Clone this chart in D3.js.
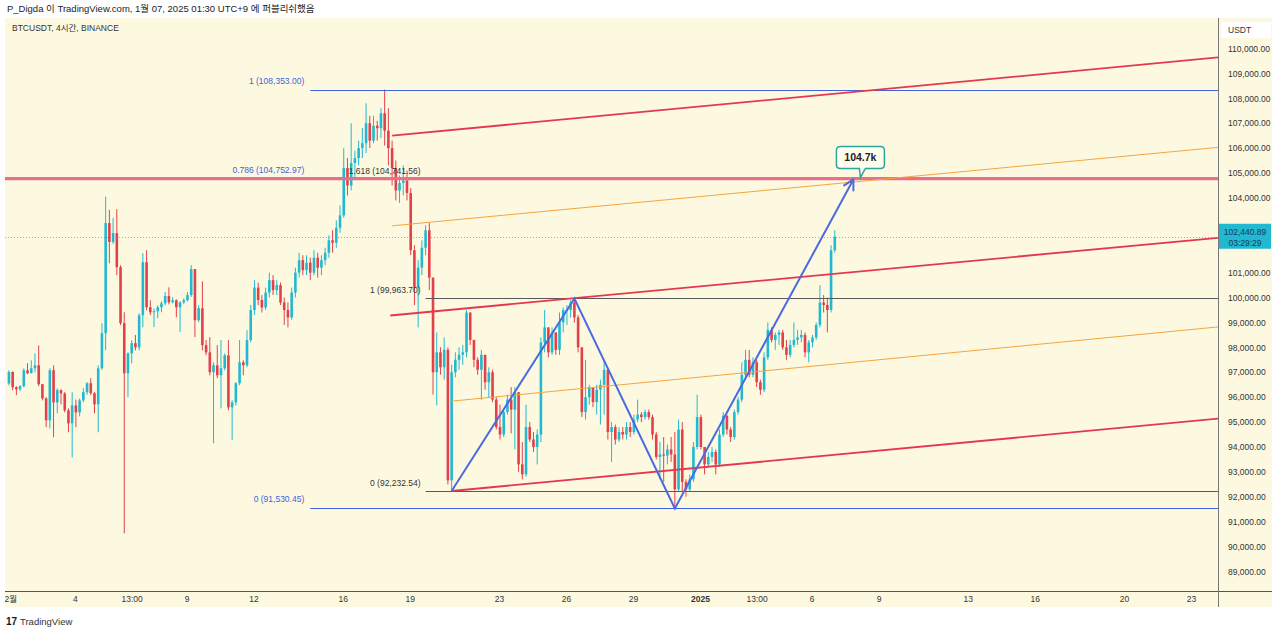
<!DOCTYPE html>
<html lang="ko">
<head>
<meta charset="utf-8">
<title>BTCUSDT 4시간</title>
<script src="https://cdn.jsdelivr.net/npm/d3@7/dist/d3.min.js"></script>
<style>
  body { margin: 0; background: #ffffff; }
  svg { display: block; font-family: "Liberation Sans", "Noto Sans CJK KR", sans-serif; }
</style>
</head>
<body>
<svg id="chart" width="1280" height="634"></svg>
<script>
// 4h bars, open of each bar = previous close
const barStart = "2024-12-01T01:00:00Z";
const barHours = 4;
const firstOpen = 96550;
const closes = [
  97010,96400,96320,96440,97080,96960,97160,97280,96520,95950,95070,97080,95790,96280,96150,95470,
  94950,95670,95390,95870,96200,96560,96160,95710,97160,98570,102990,102230,102590,101220,98970,96960,
  97760,98170,98000,99290,101420,99610,99410,99450,99610,99770,100060,99810,99890,99610,99810,99890,
  100100,101140,99090,99570,98090,97800,97000,97280,96880,97160,97680,95590,95790,96560,97400,97280,
  98290,99500,100400,99900,99600,100200,100700,100300,100500,99800,99500,99200,100200,101000,101500,101100,
  101400,101000,101600,101200,101500,101800,102300,102200,102800,103300,105200,104500,105400,105600,106000,106200,
  107000,106300,106900,106800,107400,106700,106000,105200,104300,104600,104700,104200,101900,100400,101200,102000,
  102700,100800,97000,97800,97200,97900,92660,97000,97500,97700,97800,99400,98300,97500,97100,97700,
  96600,97000,95900,94800,94500,95400,95900,95500,96200,93300,92900,94800,94300,94000,94500,98200,
  98800,97800,98600,97900,99000,99500,99500,99800,99200,98000,95400,96000,96400,95800,96300,96500,
  97100,94600,94800,94300,94600,94500,94800,94600,95100,95300,95200,95400,95200,94500,93600,93700,
  93650,93900,93700,92300,94700,92600,92300,92700,94000,95200,94000,93300,93600,93800,93300,94500,
  95250,94700,94400,95400,95900,96900,97500,96900,97400,96600,96300,97600,98700,98300,98500,98600,
  98000,97700,98100,98300,98400,98500,97800,98200,98400,98900,99800,99700,99500,101900,102440.89
];
const highs = [
  97080,97040,96440,96480,97160,97360,97480,97760,98080,96520,96000,97160,97280,96360,96320,96200,
  95550,96200,95900,95950,96360,96600,96760,96200,97280,98970,104050,103520,103190,103550,101300,99410,
  97800,98290,98500,99370,101780,101900,99890,99560,99690,99850,100220,100410,100010,99930,99850,99970,
  100220,101300,101140,99690,100650,98290,98410,97400,98090,98290,97760,98290,95870,96600,98290,97480,
  98690,99700,100700,100600,100100,100400,101000,100900,100700,100600,100000,99800,100400,101200,101800,101700,
  101700,101600,101900,101800,101700,102000,102500,102700,103100,103700,106000,105600,107000,105900,106300,106800,
  107800,107300,107300,107100,107600,108353,107600,106300,105500,104900,105300,105100,104400,102100,101500,102300,
  102900,103000,100800,98600,98000,98400,98000,97300,97800,98000,98100,99500,99400,98300,97600,97900,
  97700,97200,97100,96000,95700,95500,96100,96400,96400,96200,94200,95700,95000,94600,94700,98400,
  99500,98800,98800,98600,99400,99600,99700,99900,99963,99300,98000,97500,96500,96400,96500,96700,
  97500,97100,95000,94900,94800,94800,95000,95000,95300,95900,95400,95500,95500,95300,94600,94200,
  94400,94100,94400,94600,95100,95000,92700,92900,94200,96100,95300,94000,93800,94000,93900,94700,
  95400,95300,94800,95500,96000,97400,97900,97900,97600,97500,96700,97800,99000,98800,98600,98700,
  98700,98300,98300,99000,98700,98700,98600,98300,98500,99000,100500,100100,100000,102100,102700
];
const lows = [
  96480,96280,96080,96240,96400,96920,96960,97000,96440,95870,94790,94750,94390,95350,95710,95390,
  94590,93580,94790,95230,95800,96100,96080,95350,94590,97100,97880,101380,102150,100900,98890,90530,
  96000,97360,97880,97880,98810,99490,99290,98810,99170,99410,99690,99730,99770,99210,98610,99730,
  99850,100020,98410,99010,97880,97680,96880,94150,96760,95550,97080,95470,94270,95670,96480,96880,
  97200,98200,99300,99700,99400,99500,100000,100100,100100,99700,98900,98800,99100,100000,100800,100900,
  100900,100700,100900,100800,100900,101300,101600,101800,102000,102600,103200,104100,104300,104800,105300,105600,
  105800,106000,106200,106300,106400,106100,105300,104500,103900,103800,104100,103900,101700,99700,98800,100900,
  101700,100300,96100,95670,96900,96700,92500,92232.54,96800,97100,97300,97600,98100,97200,96900,95900,
  96300,96000,95800,94700,94300,94400,95300,94550,93900,93000,92700,92800,94200,93800,93300,94200,
  97800,97600,97700,97700,97700,98600,98900,99200,99000,97800,95200,95100,95700,95600,95300,94900,
  95300,94300,93400,94100,94200,94300,94300,94400,94500,95000,95000,95100,95100,94300,93500,92700,
  92600,93300,93400,91530.45,92200,92200,92000,92200,92600,93900,93900,92900,93200,93400,92900,93200,
  94400,94500,94200,94300,95300,95800,96700,96800,96800,96400,96100,96200,97500,98200,97900,98100,
  97900,97500,97600,98000,98100,98200,97600,97400,98000,98300,98800,99400,98600,99400,101800
];

const priceTicks = d3.range(89000, 110001, 1000);
const dateTicks = ["2024-12-01T00:00Z","2024-12-04T00:00Z","2024-12-06T13:00Z","2024-12-09T00:00Z",
  "2024-12-12T00:00Z","2024-12-16T00:00Z","2024-12-19T00:00Z","2024-12-23T00:00Z","2024-12-26T00:00Z",
  "2024-12-29T00:00Z","2025-01-01T00:00Z","2025-01-03T13:00Z","2025-01-06T00:00Z","2025-01-09T00:00Z",
  "2025-01-13T00:00Z","2025-01-16T00:00Z","2025-01-20T00:00Z","2025-01-23T00:00Z"];
const dateLabels = ["12월","4","13:00","9","12","16","19","23","26","29","2025","13:00","6","9","13","16","20","23"];

// drawings: [barIndex, price]
const fibRetrace = [["1", 108353.00], ["0.786", 104752.97], ["0", 91530.45]];
const fibRetraceFrom = 81;
const fibExt = [["1.618", 104741.56], ["1", 99963.70], ["0", 92232.54]];
const fibExtFrom = 112;
const redLines = [
  [[103, 106500], [325, 109640]],
  [[102.5, 99280], [325, 102400]],
  [[119, 92232.54], [325, 95140]]
];
const orangeLines = [
  [[103, 102880], [325, 106030]],
  [[119, 95840], [325, 98820]]
];
const zigzag = [[119, 92232.54], [152, 99963.70], [179, 91530.45], [227, 104741.56]];
const targetLabel = "104.7k";
const lastPrice = 102440.89;
const countdown = "03:29:29";

const svg = d3.select("#chart");
const plot = { left: 5, right: 1218, top: 18, bottom: 591 };

const x = d3.scaleUtc()
  .domain([new Date("2024-12-01T00:00Z"), new Date("2025-01-23T00:00Z")])
  .range([8, 1191]);
const y = d3.scaleLinear().domain([89000, 110000]).range([571.5, 48.5]);
const barTime = i => new Date(Date.parse(barStart) + i * barHours * 3600e3);
const bx = i => x(barTime(i));
const crisp = v => Math.round(v) + 0.5;

// frame
svg.append("rect").attr("x", 5).attr("y", 18).attr("width", 1267).attr("height", 589).attr("fill", "#fdf9e1");

const defs = svg.append("defs");
defs.append("clipPath").attr("id", "plotClip").append("rect")
  .attr("x", plot.left).attr("y", plot.top).attr("width", plot.right - plot.left).attr("height", plot.bottom - plot.top);
defs.append("clipPath").attr("id", "xClip").append("rect")
  .attr("x", plot.left).attr("y", plot.bottom).attr("width", plot.right - plot.left).attr("height", 16);

const g = svg.append("g").attr("clip-path", "url(#plotClip)");

// last price dotted line
g.append("line")
  .attr("x1", plot.left).attr("x2", plot.right)
  .attr("y1", crisp(y(lastPrice))).attr("y2", crisp(y(lastPrice)))
  .attr("stroke", "#5cc8d8").attr("stroke-dasharray", "1,2").attr("stroke-width", 1);

// candles
const candles = closes.map((c, i) => ({ i, o: i ? closes[i - 1] : firstOpen, h: highs[i], l: lows[i], c }));
const upCol = "#22b9d0", downCol = "#e2404a";
const cg = g.append("g").selectAll("g").data(candles).join("g");
cg.append("line")
  .attr("x1", d => bx(d.i)).attr("x2", d => bx(d.i))
  .attr("y1", d => y(Math.max(d.h, d.o, d.c))).attr("y2", d => y(Math.min(d.l, d.o, d.c)))
  .attr("stroke", d => d.c >= d.o ? upCol : downCol).attr("stroke-width", 1);
cg.append("rect")
  .attr("x", d => bx(d.i) - 1.3).attr("width", 2.6)
  .attr("y", d => y(Math.max(d.o, d.c)))
  .attr("height", d => Math.max(1, Math.abs(y(d.o) - y(d.c))))
  .attr("fill", d => d.c >= d.o ? upCol : downCol);

// 0.786 / 1.618 band across the chart
g.append("line").attr("x1", plot.left).attr("x2", plot.right)
  .attr("y1", y(fibRetrace[1][1]) - 0.5).attr("y2", y(fibRetrace[1][1]) - 0.5)
  .attr("stroke", "#ea6f8a").attr("stroke-width", 3.2);
g.append("line").attr("x1", plot.left).attr("x2", plot.right)
  .attr("y1", crisp(y(fibExt[0][1]))).attr("y2", crisp(y(fibExt[0][1])))
  .attr("stroke", "#a77de0").attr("stroke-width", 1);

// fib retracement (blue)
fibRetrace.forEach(([lvl, p]) => {
  if (lvl !== "0.786") {
    g.append("line").attr("x1", bx(fibRetraceFrom)).attr("x2", plot.right)
      .attr("y1", crisp(y(p))).attr("y2", crisp(y(p))).attr("stroke", "#3f63dc").attr("stroke-width", 1);
  }
  g.append("text").attr("x", bx(fibRetraceFrom) - 6).attr("y", y(p) - 6)
    .attr("text-anchor", "end").attr("font-size", 8.5).attr("fill", "#3f63dc")
    .text(`${lvl} (${d3.format(",.2f")(p)})`);
});

// fib extension (dark gray)
fibExt.forEach(([lvl, p]) => {
  if (lvl !== "1.618") {
    g.append("line").attr("x1", bx(fibExtFrom)).attr("x2", plot.right)
      .attr("y1", crisp(y(p))).attr("y2", crisp(y(p))).attr("stroke", "#5a5a5a").attr("stroke-width", 1);
  }
  g.append("text").attr("x", bx(fibExtFrom) - 5).attr("y", y(p) - 5)
    .attr("text-anchor", "end").attr("font-size", 8.5).attr("fill", "#333")
    .text(`${lvl} (${d3.format(",.2f")(p)})`);
});

// channels
const seg = d3.line().x(d => bx(d[0])).y(d => y(d[1]));
orangeLines.forEach(l => g.append("path").attr("d", seg(l)).attr("fill", "none")
  .attr("stroke", "#f5a53c").attr("stroke-width", 1));
redLines.forEach(l => g.append("path").attr("d", seg(l)).attr("fill", "none")
  .attr("stroke", "#e5384f").attr("stroke-width", 1.8));

// blue zigzag with arrow
g.append("path").attr("d", seg(zigzag)).attr("fill", "none")
  .attr("stroke", "#4a6be0").attr("stroke-width", 2).attr("stroke-linejoin", "miter");
const [pa, pb] = zigzag.slice(-2).map(d => [bx(d[0]), y(d[1])]);
const ang = Math.atan2(pb[1] - pa[1], pb[0] - pa[0]);
[-0.5, 0.5].forEach(da => {
  g.append("line").attr("x1", pb[0]).attr("y1", pb[1])
    .attr("x2", pb[0] - 11 * Math.cos(ang + da)).attr("y2", pb[1] - 11 * Math.sin(ang + da))
    .attr("stroke", "#4a6be0").attr("stroke-width", 2).attr("stroke-linecap", "round");
});

// callout
const cx = pb[0] + 7, cy = pb[1] - 22;
const callout = svg.append("g");
callout.append("path")
  .attr("d", `M${cx - 20},${cy - 11} h40 q4,0 4,4 v14 q0,4 -4,4 h-15 l-5,9 l-1,-9 h-19 q-4,0 -4,-4 v-14 q0,-4 4,-4 z`)
  .attr("fill", "#fffdee").attr("stroke", "#2ea59c").attr("stroke-width", 1.5);
callout.append("text").attr("x", cx).attr("y", cy + 4).attr("text-anchor", "middle")
  .attr("font-size", 10.5).attr("font-weight", "bold").attr("fill", "#222").text(targetLabel);

// axes
const py = y(lastPrice);
const yAxis = svg.append("g").attr("transform", `translate(${plot.right},0)`)
  .call(d3.axisRight(y).tickValues(priceTicks).tickFormat(d3.format(",.2f")).tickSize(0).tickPadding(10));
yAxis.select(".domain").remove();
yAxis.selectAll(".tick").filter(d => Math.abs(y(d) - py) < 16).remove();
yAxis.selectAll("text").attr("font-size", 8.5).attr("fill", "#333").attr("font-family", "Liberation Sans, sans-serif");

const xAxis = svg.append("g").attr("clip-path", "url(#xClip)").append("g")
  .attr("transform", `translate(0,${plot.bottom})`)
  .call(d3.axisBottom(x).tickValues(dateTicks.map(d => new Date(d))).tickFormat((d, i) => dateLabels[i]).tickSize(0).tickPadding(5));
xAxis.select(".domain").remove();
xAxis.selectAll("text").attr("font-size", 8.5).attr("fill", "#333").attr("font-family", "Liberation Sans, Noto Sans CJK KR, sans-serif")
  .attr("font-weight", (d, i) => dateLabels[i] === "2025" ? "bold" : null);

svg.append("line").attr("x1", plot.left).attr("x2", 1272).attr("y1", plot.bottom + 0.5).attr("y2", plot.bottom + 0.5)
  .attr("stroke", "#555").attr("stroke-width", 1);
svg.append("line").attr("x1", plot.right + 0.5).attr("x2", plot.right + 0.5).attr("y1", plot.top).attr("y2", 607)
  .attr("stroke", "#777").attr("stroke-width", 1);

// price tag
svg.append("rect").attr("x", plot.right + 1).attr("y", py - 13).attr("width", 52).attr("height", 25).attr("fill", "#22b8cf");
svg.append("text").attr("x", plot.right + 27).attr("y", py - 2).attr("text-anchor", "middle").attr("font-size", 8.5).attr("fill", "#173b5c").text(d3.format(",.2f")(lastPrice));
svg.append("text").attr("x", plot.right + 27).attr("y", py + 9).attr("text-anchor", "middle").attr("font-size", 8.5).attr("fill", "#173b5c").text(countdown);

// unit box
svg.append("rect").attr("x", 1221).attr("y", 22).attr("width", 50).attr("height", 16).attr("fill", "#ffffff");
svg.append("text").attr("x", 1228).attr("y", 33).attr("font-size", 8.5).attr("fill", "#333").text("USDT");

// texts
svg.append("text").attr("x", 7).attr("y", 12).attr("font-size", 9.5).attr("fill", "#222")
  .text("P_Digda 이 TradingView.com, 1월 07, 2025 01:30 UTC+9 에 퍼블리쉬했음");
svg.append("text").attr("x", 12).attr("y", 31).attr("font-size", 8.5).attr("fill", "#333")
  .text("BTCUSDT, 4시간, BINANCE");
svg.append("text").attr("x", 6).attr("y", 625).attr("font-size", 10).attr("font-weight", "bold").attr("fill", "#131722").text("17");
svg.append("text").attr("x", 20).attr("y", 625).attr("font-size", 9.5).attr("fill", "#333").text("TradingView");
</script>
</body>
</html>
